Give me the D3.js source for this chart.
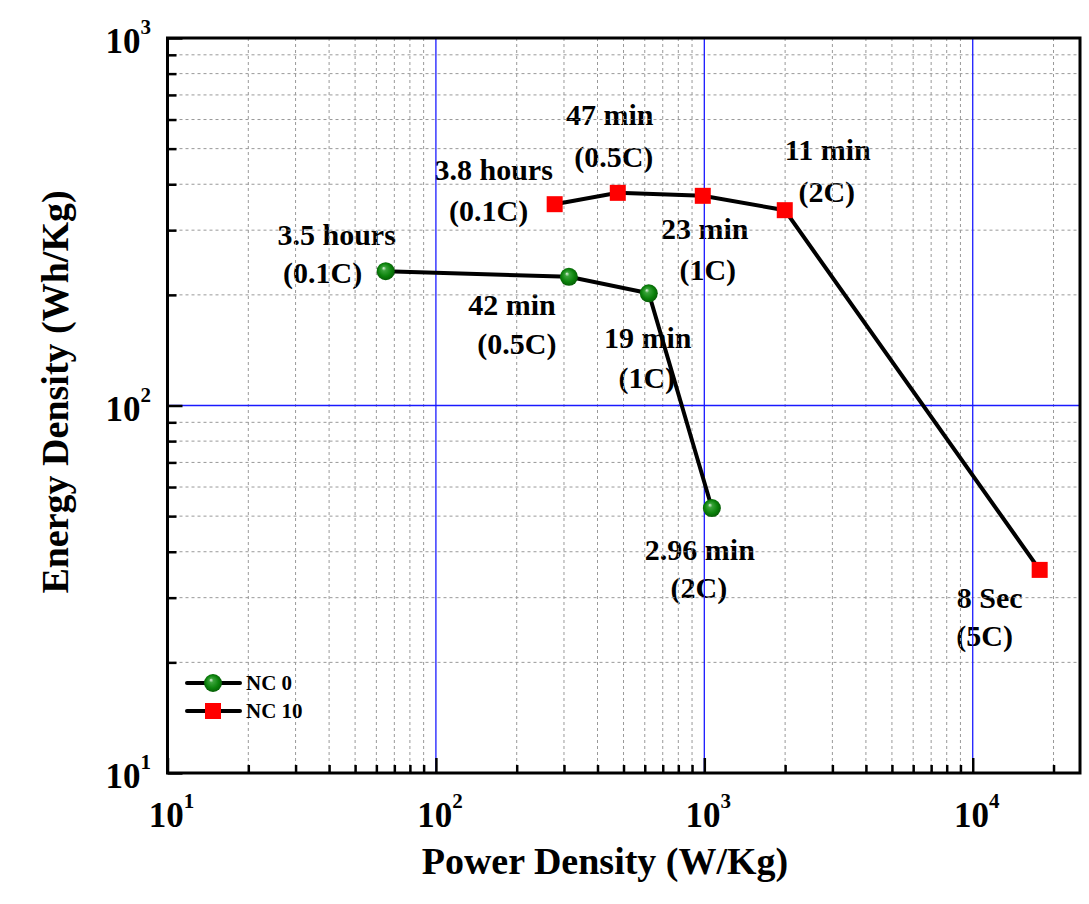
<!DOCTYPE html>
<html>
<head>
<meta charset="utf-8">
<script src="https://cdn.jsdelivr.net/npm/d3@7"></script>
<style>
  body { margin: 0; background: #fff; }
  svg text { font-family: "Liberation Serif", "Times New Roman", serif; font-weight: bold; fill: #000; }
</style>
</head>
<body>
<div id="figure"></div>
<script>
// data
var nc0Power = [65, 313, 621, 1067];
var nc0Energy = [232, 224, 202, 52.6];
var nc0Labels = [["3.5 hours", "(0.1C)"], ["42 min", "(0.5C)"], ["19 min", "(1C)"], ["2.96 min", "(2C)"]];

var nc10Power = [277, 476, 987, 1994, 17760];
var nc10Energy = [353, 379, 372, 340, 35.7];
var nc10Labels = [["3.8 hours", "(0.1C)"], ["47 min", "(0.5C)"], ["23 min", "(1C)"], ["11 min", "(2C)"], ["8 Sec", "(5C)"]];

var seriesNames = ["NC 0", "NC 10"];
var xDecades = [1, 2, 3, 4];
var yDecades = [1, 2, 3];

// label offsets from each point (pixels), [dx1,dy1,dx2,dy2]
var nc0Off = [[-49, -26, -63, 12], [-57, 38, -52, 77], [-1, 55, -2, 95], [-12, 52, -13, 90]];
var nc10Off = [[-61, -24, -66, 17], [-8, -68, -4, -26], [2, 43, 5, 84], [43, -50, 42, -8], [-50, 38, -55, 76]];

var W = 1089, H = 904;
var pLeft = 167.5, pRight = 1080, pTop = 38, pBottom = 773;

var svg = d3.select("#figure").append("svg").attr("width", W).attr("height", H);

var x = d3.scaleLog().domain([10, 25100]).range([pLeft, pRight]);
var y = d3.scaleLog().domain([10, 1000]).range([pBottom, pTop]);

var nc0 = nc0Power.map(function(p, i) { return [p, nc0Energy[i]]; });
var nc10 = nc10Power.map(function(p, i) { return [p, nc10Energy[i]]; });

// annotations (drawn first, grid sits over them)
function annotate(data, labels, off) {
	var g = svg.append("g");
	data.forEach(function(d, i) {
		var px = x(d[0]), py = y(d[1]);
		[0, 1].forEach(function(k) {
			g.append("text")
				.attr("x", px + off[i][k * 2])
				.attr("y", py + off[i][k * 2 + 1])
				.attr("text-anchor", "middle")
				.attr("font-size", "30px")
				.text(labels[i][k]);
		});
	});
}
annotate(nc0, nc0Labels, nc0Off);
annotate(nc10, nc10Labels, nc10Off);

// grid
function minorValues(dom) {
	var out = [];
	for (var e = Math.floor(Math.log10(dom[0])); e <= Math.log10(dom[1]); e++)
		for (var m = 2; m <= 9; m++) {
			var v = m * Math.pow(10, e);
			if (v > dom[0] && v < dom[1]) out.push(v);
		}
	return out;
}
var xMinor = minorValues(x.domain());
var yMinor = minorValues(y.domain());

var grid = svg.append("g").attr("class", "grid");
grid.selectAll("line.xm").data(xMinor).enter().append("line").attr("class", "xm")
	.attr("x1", function(d) { return x(d); }).attr("x2", function(d) { return x(d); })
	.attr("y1", pTop).attr("y2", pBottom)
	.attr("stroke", "#999").attr("stroke-width", 1).attr("stroke-dasharray", "3,3");
grid.selectAll("line.ym").data(yMinor).enter().append("line").attr("class", "ym")
	.attr("y1", function(d) { return y(d); }).attr("y2", function(d) { return y(d); })
	.attr("x1", pLeft).attr("x2", pRight)
	.attr("stroke", "#999").attr("stroke-width", 1).attr("stroke-dasharray", "3,3");
grid.selectAll("line.xM").data(xDecades.slice(1)).enter().append("line").attr("class", "xM")
	.attr("x1", function(d) { return x(Math.pow(10, d)); }).attr("x2", function(d) { return x(Math.pow(10, d)); })
	.attr("y1", pTop).attr("y2", pBottom)
	.attr("stroke", "#1a1aff").attr("stroke-width", 1.3);
grid.selectAll("line.yM").data(yDecades.slice(1, 2)).enter().append("line").attr("class", "yM")
	.attr("y1", function(d) { return y(Math.pow(10, d)); }).attr("y2", function(d) { return y(Math.pow(10, d)); })
	.attr("x1", pLeft).attr("x2", pRight)
	.attr("stroke", "#1a1aff").attr("stroke-width", 1.3);

// axes with inward ticks
function isDecade(d) { return Math.abs(Math.log10(d) - Math.round(Math.log10(d))) < 1e-9; }

var xAxis = d3.axisBottom(x).tickValues(xMinor.concat(xDecades.map(function(d) { return Math.pow(10, d); })))
	.tickSizeOuter(0).tickFormat("");
var gx = svg.append("g").attr("transform", "translate(0," + pBottom + ")").call(xAxis);
gx.selectAll(".tick line").attr("stroke-width", 2.5)
	.attr("y2", function(d) { return isDecade(d) ? -15 : -8; });
gx.select(".domain").remove();

var yAxis = d3.axisLeft(y).tickValues(yMinor.concat(yDecades.map(function(d) { return Math.pow(10, d); })))
	.tickSizeOuter(0).tickFormat("");
var gy = svg.append("g").attr("transform", "translate(" + pLeft + ",0)").call(yAxis);
gy.selectAll(".tick line").attr("stroke-width", 2.5)
	.attr("x2", function(d) { return isDecade(d) ? 15 : 9; });
gy.select(".domain").remove();

svg.append("rect")
	.attr("x", pLeft).attr("y", pTop).attr("width", pRight - pLeft).attr("height", pBottom - pTop)
	.attr("fill", "none").attr("stroke", "#000").attr("stroke-width", 3);

// tick labels
xDecades.forEach(function(d) {
	var t = svg.append("text").attr("x", x(Math.pow(10, d)) + 4).attr("y", 827)
		.attr("text-anchor", "middle").attr("font-size", "35px");
	t.append("tspan").text("10");
	t.append("tspan").attr("dy", -19).attr("font-size", "21px").text(d);
});
yDecades.forEach(function(d) {
	var t = svg.append("text").attr("x", 151).attr("y", y(Math.pow(10, d)) + 15)
		.attr("text-anchor", "end").attr("font-size", "35px");
	t.append("tspan").text("10");
	t.append("tspan").attr("dy", -19).attr("font-size", "21px").text(d);
});

// axis titles
svg.append("text").attr("x", 605).attr("y", 874).attr("text-anchor", "middle")
	.attr("font-size", "38px").text("Power Density (W/Kg)");
svg.append("text").attr("transform", "translate(68,392) rotate(-90)").attr("text-anchor", "middle")
	.attr("font-size", "38px").text("Energy Density (Wh/Kg)");

// sphere gradient
var defs = svg.append("defs");
var grad = defs.append("radialGradient").attr("id", "ball").attr("cx", "50%").attr("cy", "50%").attr("r", "55%")
	.attr("fx", "38%").attr("fy", "32%");
grad.append("stop").attr("offset", "0%").attr("stop-color", "#e6f5e6");
grad.append("stop").attr("offset", "22%").attr("stop-color", "#3aa33a");
grad.append("stop").attr("offset", "65%").attr("stop-color", "#0b820b");
grad.append("stop").attr("offset", "100%").attr("stop-color", "#055505");

// series
var line = d3.line().x(function(d) { return x(d[0]); }).y(function(d) { return y(d[1]); });
svg.append("path").datum(nc0).attr("d", line).attr("fill", "none").attr("stroke", "#000").attr("stroke-width", 4);
svg.append("path").datum(nc10).attr("d", line).attr("fill", "none").attr("stroke", "#000").attr("stroke-width", 4);

svg.selectAll("circle.nc0").data(nc0).enter().append("circle").attr("class", "nc0")
	.attr("cx", function(d) { return x(d[0]); }).attr("cy", function(d) { return y(d[1]); })
	.attr("r", 9).attr("fill", "url(#ball)");
svg.selectAll("rect.nc10").data(nc10).enter().append("rect").attr("class", "nc10")
	.attr("x", function(d) { return x(d[0]) - 8; }).attr("y", function(d) { return y(d[1]) - 8; })
	.attr("width", 16).attr("height", 16).attr("fill", "#ff0000");

// legend
var leg = svg.append("g");
seriesNames.forEach(function(name, i) {
	var ly = 683 + i * 28;
	leg.append("line").attr("x1", 187).attr("x2", 240).attr("y1", ly).attr("y2", ly)
		.attr("stroke", "#000").attr("stroke-width", 4).attr("stroke-linecap", "round");
	if (i == 0)
		leg.append("circle").attr("cx", 213).attr("cy", ly).attr("r", 9).attr("fill", "url(#ball)");
	else
		leg.append("rect").attr("x", 205).attr("y", ly - 8).attr("width", 16).attr("height", 16).attr("fill", "#ff0000");
	leg.append("text").attr("x", 246).attr("y", ly + 7).attr("font-size", "21px").text(name);
});
</script>
</body>
</html>
